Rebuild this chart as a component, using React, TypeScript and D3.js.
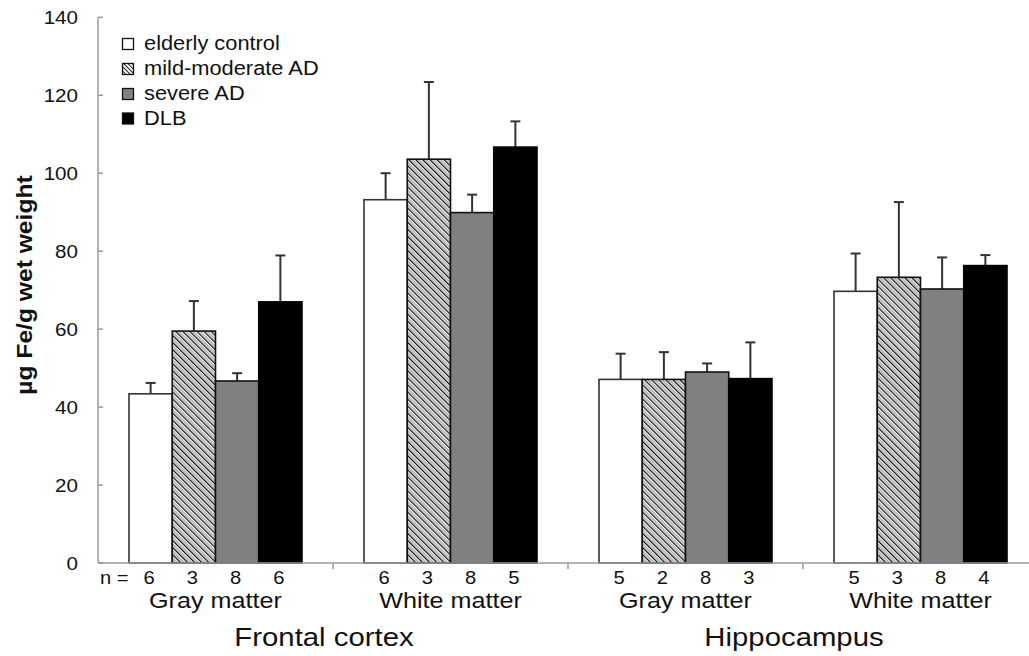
import React from "react";
import * as d3 from "d3";

const subgroups = ["Gray matter", "White matter", "Gray matter", "White matter"];
const regions = ["Frontal cortex", "Hippocampus"];
const seriesNames = ["elderly control", "mild-moderate AD", "severe AD", "DLB"];

const elderlyMean = [43.4, 93.2, 47.1, 69.7];
const mildMean = [59.5, 103.6, 47.1, 73.3];
const severeMean = [46.7, 89.9, 49.0, 70.3];
const dlbMean = [67.0, 106.7, 47.3, 76.3];

const elderlySD = [2.8, 6.8, 6.6, 9.7];
const mildSD = [7.7, 19.8, 7.0, 19.3];
const severeSD = [2.0, 4.6, 2.2, 8.1];
const dlbSD = [11.9, 6.6, 9.3, 2.7];

const elderlyN = [6, 6, 5, 5];
const mildN = [3, 3, 2, 3];
const severeN = [8, 8, 8, 8];
const dlbN = [6, 5, 3, 4];

const yTicks = [0, 20, 40, 60, 80, 100, 120, 140];

const means = [elderlyMean, mildMean, severeMean, dlbMean];
const sds = [elderlySD, mildSD, severeSD, dlbSD];
const ns = [elderlyN, mildN, severeN, dlbN];

const W = 1029;
const H = 656;
const FONT = "'Liberation Sans', Arial, Helvetica, sans-serif";
const SX = 1.12;
const AXIS = "#9a9a9a";

function T({ x, y, size, anchor = "middle", weight = "normal", children }: any) {
  return (
    <text
      transform={`translate(${x},${y}) scale(${SX},1)`}
      textAnchor={anchor}
      fontSize={size}
      fontWeight={weight}
      fontFamily={FONT}
      fill="#111"
    >
      {children}
    </text>
  );
}

export default function App() {
  const y = d3.scaleLinear().domain([0, 140]).range([563, 17.3]);
  const x0 = d3
    .scaleBand<number>()
    .domain(subgroups.map((_, i) => i))
    .range([98, 1038])
    .paddingInner(0)
    .paddingOuter(0);
  const x1 = d3
    .scaleBand<number>()
    .domain(seriesNames.map((_, i) => i))
    .range([31, 204])
    .padding(0);
  const bw = x1.bandwidth();

  const fills = ["#ffffff", "url(#hatch)", "#808080", "#000000"];
  const strokes = ["#333", "#111", "#111", "#000"];

  const legendY = [50, 75, 100, 124.5];

  return (
    <svg
      width={W}
      height={H}
      style={{ position: "absolute", left: 0, top: 0, background: "#fff" }}
    >
      <defs>
        <pattern
          id="hatch"
          patternUnits="userSpaceOnUse"
          width={5}
          height={5}
          patternTransform="rotate(-45)"
        >
          <rect x={0} y={0} width={5} height={5} fill="#ffffff" />
          <rect x={0} y={0} width={1.3} height={5} fill="#111" />
          <rect x={2.5} y={0} width={1.3} height={5} fill="#9a9a9a" />
        </pattern>
        <pattern
          id="hatchSmall"
          patternUnits="userSpaceOnUse"
          width={3}
          height={3}
          patternTransform="rotate(-45)"
        >
          <rect x={0} y={0} width={3} height={3} fill="#ffffff" />
          <rect x={0} y={0} width={1} height={3} fill="#222" />
        </pattern>
      </defs>

      {/* bars */}
      {subgroups.map((_, g) => (
        <g key={g} transform={`translate(${x0(g)},0)`}>
          {seriesNames.map((_, s) => {
            const v = means[s][g];
            const e = v + sds[s][g];
            const bx = x1(s)!;
            const cx = bx + bw / 2;
            return (
              <g key={s}>
                <line x1={cx} x2={cx} y1={y(v)} y2={y(e)} stroke="#333" strokeWidth={2} />
                <line x1={cx - 5} x2={cx + 5} y1={y(e)} y2={y(e)} stroke="#333" strokeWidth={2} />
                <rect
                  x={bx}
                  y={y(v)}
                  width={bw}
                  height={y(0) - y(v)}
                  fill={fills[s]}
                  stroke={strokes[s]}
                  strokeWidth={1.6}
                />
              </g>
            );
          })}
        </g>
      ))}

      {/* y axis */}
      <line x1={98} x2={98} y1={17.3} y2={563} stroke={AXIS} strokeWidth={1.5} />
      {yTicks.map((t) => (
        <g key={t}>
          <line x1={98} x2={103} y1={y(t)} y2={y(t)} stroke={AXIS} strokeWidth={1.5} />
          <T x={78} y={y(t) + 6.5} size={18.4} anchor="end">
            {t}
          </T>
        </g>
      ))}

      {/* x axis */}
      <line x1={98} x2={W} y1={563} y2={563} stroke={AXIS} strokeWidth={1.5} />
      {subgroups.slice(1).map((_, i) => (
        <line
          key={i}
          x1={x0(i + 1)!}
          x2={x0(i + 1)!}
          y1={563}
          y2={569}
          stroke={AXIS}
          strokeWidth={1.5}
        />
      ))}

      {/* n labels */}
      <T x={100} y={584} size={18} anchor="start">
        n =
      </T>
      {subgroups.map((_, g) =>
        seriesNames.map((_, s) => (
          <T key={`${g}-${s}`} x={x0(g)! + x1(s)! + bw / 2 - 1.5} y={584} size={18}>
            {ns[s][g]}
          </T>
        ))
      )}

      {/* subgroup labels */}
      {subgroups.map((name, g) => (
        <T key={g} x={x0(g)! + x0.bandwidth() / 2} y={607.5} size={22.5}>
          {name}
        </T>
      ))}

      {/* region labels */}
      {regions.map((name, r) => (
        <T key={r} x={x0(r * 2 + 1)! - 9} y={645.5} size={26.2}>
          {name}
        </T>
      ))}

      {/* y label */}
      <text
        transform={`translate(32,285) rotate(-90) scale(${SX},1)`}
        textAnchor="middle"
        fontSize={22}
        fontWeight="bold"
        fontFamily={FONT}
        fill="#111"
      >
        µg Fe/g wet weight
      </text>

      {/* legend */}
      {seriesNames.map((name, s) => (
        <g key={s}>
          <rect
            x={122.5}
            y={legendY[s] - 11.5}
            width={11}
            height={11}
            fill={s === 1 ? "url(#hatchSmall)" : fills[s]}
            stroke="#111"
            strokeWidth={1.3}
          />
          <T x={144} y={legendY[s]} size={19.5} anchor="start">
            {name}
          </T>
        </g>
      ))}
    </svg>
  );
}
